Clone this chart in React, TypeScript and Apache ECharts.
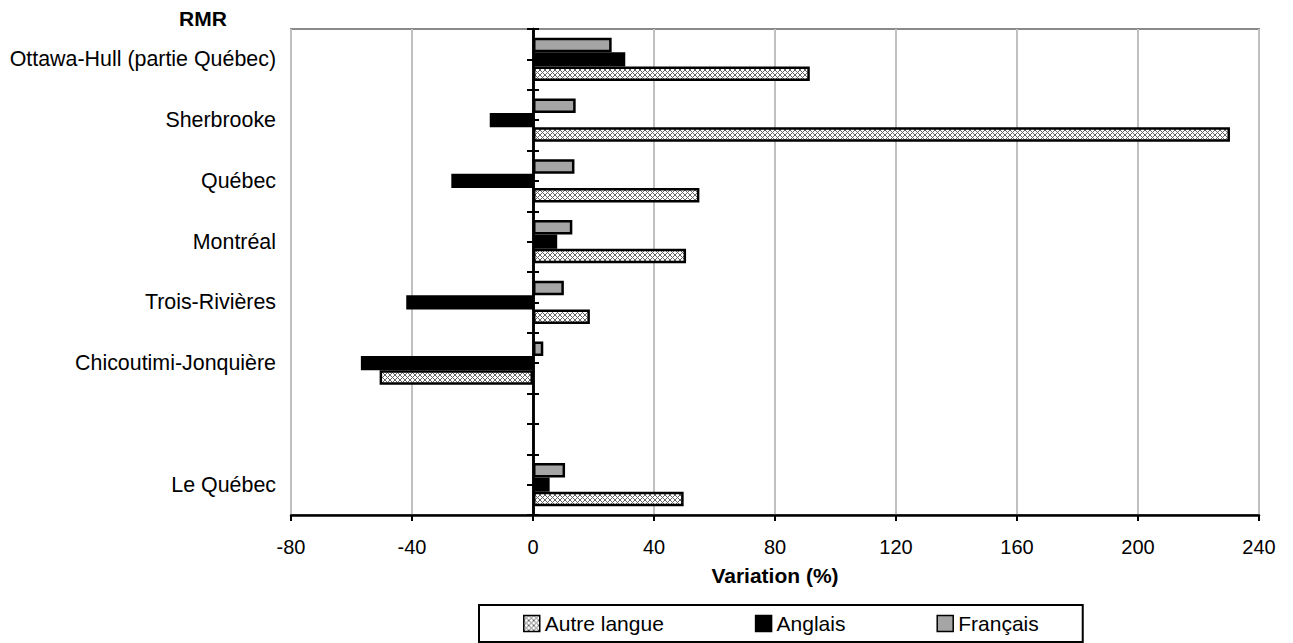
import React, { useEffect, useRef } from 'react';
import * as echarts from 'echarts';

const categories = [
  'Ottawa-Hull (partie Québec)',
  'Sherbrooke',
  'Québec',
  'Montréal',
  'Trois-Rivières',
  'Chicoutimi-Jonquière',
  '',
  'Le Québec',
];
const francais = [26.0, 14.1, 13.7, 13.0, 10.2, 3.4, null, 10.6];
const anglais = [30.5, -14.3, -27.0, 8.0, -41.9, -56.9, null, 5.5];
const autreLangue = [91.5, 230.4, 55.0, 50.6, 18.8, -50.7, null, 49.8];
const legendOrder = ['Autre langue', 'Anglais', 'Français'];
const tickSlots = ['', '', '', '', '', '', '', '', '', '', '', '', '', '', '', ''];
const xMin = -80;
const xMax = 240;
const xInterval = 40;

const FONT = "'Liberation Sans', Arial, sans-serif";

function makeHatch(): HTMLCanvasElement {
  const c = document.createElement('canvas');
  c.width = 5;
  c.height = 5;
  const ctx = c.getContext('2d')!;
  ctx.fillStyle = '#ffffff';
  ctx.fillRect(0, 0, 5, 5);
  ctx.strokeStyle = '#666666';
  ctx.lineWidth = 1;
  ctx.beginPath();
  ctx.moveTo(0, 0);
  ctx.lineTo(5, 5);
  ctx.moveTo(5, 0);
  ctx.lineTo(0, 5);
  ctx.stroke();
  return c;
}

export default function App() {
  const ref = useRef<HTMLDivElement>(null);
  useEffect(() => {
    document.body.style.margin = '0';
    if (!ref.current) return;
    const chart = echarts.init(ref.current, null, { renderer: 'svg' });
    const hatch = makeHatch();
    const tickAxisBase = {
      type: 'category',
      data: tickSlots,
      inverse: true,
      position: 'left',
      axisLine: { show: true, onZero: true, onZeroAxisIndex: 0, lineStyle: { color: '#000', width: 2.5 } },
      axisLabel: { show: false },
      splitLine: { show: false },
    };
    chart.setOption({
      animation: false,
      backgroundColor: '#ffffff',
      textStyle: { fontFamily: FONT },
      grid: {
        left: 291,
        right: 34,
        top: 29,
        bottom: 128,
        show: true,
        borderColor: '#8a8a8a',
        borderWidth: 2,
        containLabel: false,
      },
      graphic: [
        {
          type: 'text',
          x: 203,
          y: 18,
          style: {
            text: 'RMR',
            fill: '#000',
            font: `bold 21px ${FONT}`,
            textAlign: 'center',
            textVerticalAlign: 'middle',
          },
        },
      ],
      legend: {
        data: legendOrder,
        left: 479,
        top: 605,
        orient: 'horizontal',
        icon: 'rect',
        itemGap: 91,
        itemWidth: 16,
        itemHeight: 16,
        padding: [8, 44, 8, 44],
        borderColor: '#000',
        borderWidth: 2,
        textStyle: { fontSize: 21, fontFamily: FONT, color: '#000' },
        itemStyle: { borderColor: '#000', borderWidth: 1.5 },
      },
      xAxis: {
        type: 'value',
        min: xMin,
        max: xMax,
        interval: xInterval,
        name: 'Variation (%)',
        nameLocation: 'middle',
        nameGap: 50,
        nameTextStyle: { fontSize: 21, fontWeight: 'bold', color: '#000', fontFamily: FONT },
        axisLine: { show: true, lineStyle: { color: '#000', width: 2.5 } },
        axisTick: { show: true, length: 6, lineStyle: { color: '#000', width: 2 } },
        axisLabel: { fontSize: 20, color: '#000', margin: 22, fontFamily: FONT },
        splitLine: { show: true, lineStyle: { color: '#c0c0c0', width: 2 } },
      },
      yAxis: [
        {
          type: 'category',
          data: categories,
          inverse: true,
          position: 'left',
          axisLine: { show: false, onZero: false },
          axisTick: { show: false },
          axisLabel: { fontSize: 21.4, color: '#000', margin: 15, fontFamily: FONT },
          splitLine: { show: false },
        },
        {
          ...tickAxisBase,
          axisTick: { show: true, inside: false, length: 6, lineStyle: { color: '#000', width: 2 } },
        },
        {
          ...tickAxisBase,
          axisTick: { show: true, inside: true, length: 6, lineStyle: { color: '#000', width: 2 } },
        },
      ],
      series: [
        {
          name: 'Français',
          type: 'bar',
          yAxisIndex: 0,
          data: francais,
          barGap: '0%',
          barCategoryGap: '29%',
          itemStyle: { color: '#a5a5a5', borderColor: '#000', borderWidth: 2.5 },
        },
        {
          name: 'Anglais',
          type: 'bar',
          yAxisIndex: 0,
          data: anglais,
          barGap: '0%',
          barCategoryGap: '29%',
          itemStyle: { color: '#000', borderColor: '#000', borderWidth: 2.5 },
        },
        {
          name: 'Autre langue',
          type: 'bar',
          yAxisIndex: 0,
          data: autreLangue,
          barGap: '0%',
          barCategoryGap: '29%',
          itemStyle: { color: { image: hatch, repeat: 'repeat' }, borderColor: '#000', borderWidth: 2.5 },
        },
      ],
    });
    return () => chart.dispose();
  }, []);
  return <div ref={ref} style={{ width: 1293, height: 643 }} />;
}
